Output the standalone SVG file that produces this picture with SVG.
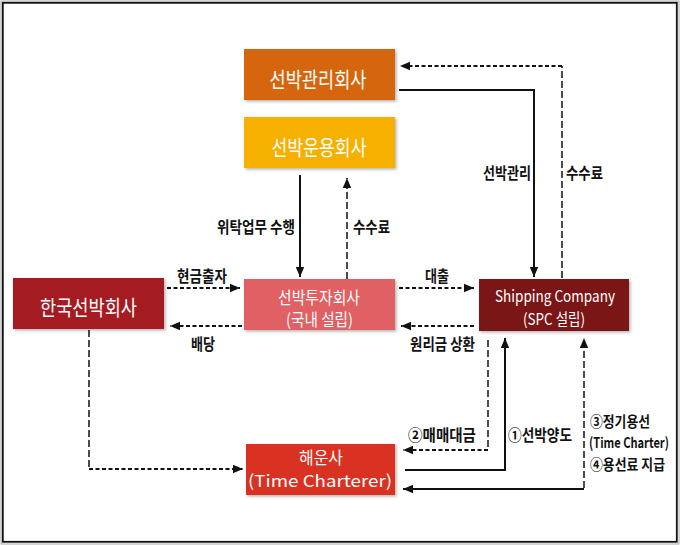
<svg xmlns="http://www.w3.org/2000/svg" width="680" height="545" viewBox="0 0 680 545">
<style>
.node-text{font-family:"Noto Sans CJK KR","Liberation Sans",sans-serif;fill:#fff;text-anchor:middle}
.lbl{font-family:"Noto Sans CJK KR","Liberation Sans",sans-serif;font-weight:bold;font-size:16px;fill:#111}
.sm{font-size:14.5px}
.solid{fill:none;stroke:#111;stroke-width:2}
.dash{fill:none;stroke:#111;stroke-width:2;stroke-dasharray:4 2.5}
.vdash{fill:none;stroke:#111;stroke-width:1.5;stroke-dasharray:7 3}
</style>
<defs>
<marker id="arr" markerUnits="userSpaceOnUse" markerWidth="10" markerHeight="10" viewBox="0 0 10 10" refX="10" refY="5" orient="auto">
<path d="M0,0.8 L10,5 L0,9.2 Z" fill="#111"/>
</marker>
<filter id="sh" x="-10%" y="-10%" width="125%" height="130%">
<feDropShadow dx="1.5" dy="1.5" stdDeviation="1.5" flood-color="#000" flood-opacity="0.3"/>
</filter>
</defs>
<rect x="0" y="0" width="680" height="545" fill="#fff"/>
<rect x="1" y="1" width="678" height="543" fill="none" stroke="#aaa" stroke-width="1"/>
<rect x="2.8" y="2.8" width="674" height="539" fill="none" stroke="#111" stroke-width="1.8"/>

<g id="connectors">
<path class="solid" d="M399 90 H534 V277" marker-end="url(#arr)"/>
<path class="vdash" d="M562 278 V66"/>
<path class="dash" d="M562 66 H400" marker-end="url(#arr)"/>
<path class="solid" d="M300 175 V277" marker-end="url(#arr)"/>
<path class="vdash" d="M347 279 V178" marker-end="url(#arr)"/>
<path class="dash" d="M167 288 H240" marker-end="url(#arr)"/>
<path class="dash" d="M242 326 H170" marker-end="url(#arr)"/>
<path class="dash" d="M399 288 H474" marker-end="url(#arr)"/>
<path class="dash" d="M474 326 H401" marker-end="url(#arr)"/>
<path class="vdash" d="M89 330 V469"/>
<path class="dash" d="M89 469 H243" marker-end="url(#arr)"/>
<path class="vdash" d="M488 340 V450"/>
<path class="dash" d="M488 450 H403" marker-end="url(#arr)"/>
<path class="solid" d="M405 470 H505 V338" marker-end="url(#arr)"/>
<path class="vdash" d="M584 488 V338" marker-end="url(#arr)"/>
<path class="solid" d="M584 489 H403" marker-end="url(#arr)"/>
</g>

<g id="labels">
<text class="lbl" x="531" y="179" text-anchor="end" textLength="48" lengthAdjust="spacingAndGlyphs">선박관리</text>
<text class="lbl" x="566" y="179" textLength="37" lengthAdjust="spacingAndGlyphs">수수료</text>
<text class="lbl" x="295" y="233" text-anchor="end" textLength="78" lengthAdjust="spacingAndGlyphs">위탁업무 수행</text>
<text class="lbl" x="353" y="233" textLength="37" lengthAdjust="spacingAndGlyphs">수수료</text>
<text class="lbl" x="177" y="282" textLength="50" lengthAdjust="spacingAndGlyphs">현금출자</text>
<text class="lbl" x="191" y="350" textLength="24" lengthAdjust="spacingAndGlyphs">배당</text>
<text class="lbl" x="425" y="282" textLength="24" lengthAdjust="spacingAndGlyphs">대출</text>
<text class="lbl" x="410" y="350" textLength="65" lengthAdjust="spacingAndGlyphs">원리금 상환</text>
<text class="lbl" x="408" y="441" textLength="68" lengthAdjust="spacingAndGlyphs">②매매대금</text>
<text class="lbl" x="508" y="441" textLength="64" lengthAdjust="spacingAndGlyphs">①선박양도</text>
<text class="lbl sm" x="590" y="427" textLength="60" lengthAdjust="spacingAndGlyphs">③정기용선</text>
<text class="lbl sm" transform="translate(589 448) scale(0.85 1)" x="0" y="0" textLength="94" lengthAdjust="spacingAndGlyphs">(Time Charter)</text>
<text class="lbl sm" x="590" y="470" textLength="75" lengthAdjust="spacingAndGlyphs">④용선료 지급</text>
</g>

<g id="node-ship-mgmt">
<rect x="244" y="49" width="151" height="51" fill="#D5660B" filter="url(#sh)"/>
<text class="node-text" x="318" y="87" font-size="21" textLength="97" lengthAdjust="spacingAndGlyphs">선박관리회사</text>
</g>
<g id="node-ship-ops">
<rect x="244" y="117" width="151" height="51" fill="#F6B000" filter="url(#sh)"/>
<text class="node-text" x="319" y="155" font-size="21" textLength="95" lengthAdjust="spacingAndGlyphs">선박운용회사</text>
</g>
<g id="node-korea-ship">
<rect x="13" y="278" width="151" height="51" fill="#A41D20" filter="url(#sh)"/>
<text class="node-text" x="88.5" y="315" font-size="21" textLength="97" lengthAdjust="spacingAndGlyphs">한국선박회사</text>
</g>
<g id="node-ship-invest">
<rect x="244" y="279" width="151" height="51" fill="#E06064" filter="url(#sh)"/>
<text class="node-text" x="319" y="304" font-size="16.5" textLength="82" lengthAdjust="spacingAndGlyphs">선박투자회사</text>
<text class="node-text" x="319.5" y="326" font-size="16.5" textLength="67" lengthAdjust="spacingAndGlyphs">(국내 설립)</text>
</g>
<g id="node-spc">
<rect x="479" y="279" width="150" height="52" fill="#7A1614" filter="url(#sh)"/>
<text class="node-text" x="555" y="302" font-size="16" textLength="120" lengthAdjust="spacingAndGlyphs">Shipping Company</text>
<text class="node-text" x="554" y="325" font-size="16" textLength="62" lengthAdjust="spacingAndGlyphs">(SPC 설립)</text>
</g>
<g id="node-shipping-co">
<rect x="246" y="444" width="149" height="51" fill="#D93020" filter="url(#sh)"/>
<text class="node-text" x="321" y="464" font-size="16.5" textLength="44" lengthAdjust="spacingAndGlyphs">해운사</text>
<text class="node-text" x="320" y="487" font-size="16.5" textLength="144" lengthAdjust="spacingAndGlyphs">(Time Charterer)</text>
</g>
</svg>
